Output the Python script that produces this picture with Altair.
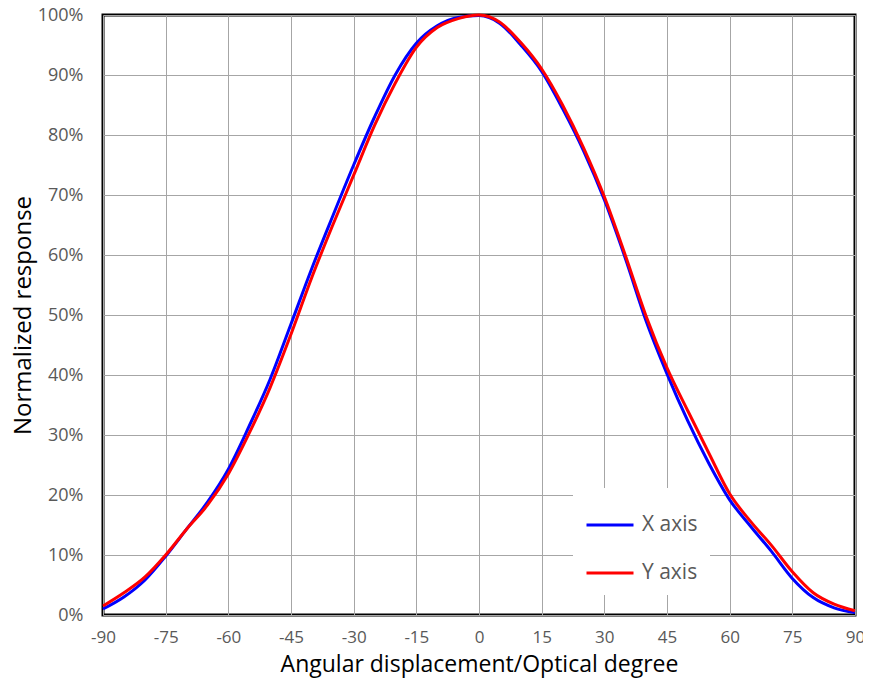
import altair as alt
import pandas as pd

angles = list(range(-90, 91, 5))

# X axis series: normalized response (%) read every 5 degrees
x_axis_resp = [1.0, 3.0, 5.8, 9.8, 14.3, 18.8, 24.3, 31.5, 39.3, 48.5, 57.8, 66.5, 75.0,
               83.0, 90.1, 95.3, 98.2, 99.6, 99.9, 98.6, 95.0, 90.6, 84.4, 77.4, 69.2,
               59.5, 49.0, 40.2, 32.3, 25.3, 19.2, 14.8, 10.6, 6.1, 2.9, 1.2, 0.4]

# Y axis series
y_axis_resp = [1.5, 3.7, 6.3, 10.0, 14.3, 18.3, 23.5, 30.3, 37.9, 46.8, 56.3, 65.0, 73.3,
               81.6, 88.7, 94.6, 97.9, 99.4, 100.0, 98.8, 95.4, 91.0, 85.0, 77.9, 69.7,
               60.0, 49.8, 41.2, 34.0, 27.0, 20.2, 15.6, 11.6, 7.2, 3.7, 1.8, 0.7]

series_names = ["X axis", "Y axis"]
series_colors = ["#0000FF", "#FF0000"]
x_ticks = list(range(-90, 91, 15))
y_ticks = list(range(0, 101, 10))

rows = []
for d, r in zip(angles, x_axis_resp):
    rows.append({"angle": d, "resp": r, "series": series_names[0], "order": 0})
for d, r in zip(angles, y_axis_resp):
    rows.append({"angle": d, "resp": r, "series": series_names[1], "order": 1})
df = pd.DataFrame(rows)

chart = alt.Chart(df).mark_line(strokeWidth=3, interpolate="monotone").encode(
    x=alt.X("angle:Q",
            scale=alt.Scale(domain=[-90, 90], nice=False, zero=False),
            axis=alt.Axis(values=x_ticks, title="Angular displacement/Optical degree",
                          labelExpr="datum.value + ''", labelFlush=False,
                          labelFontSize=17, titleFontSize=23,
                          tickSize=0, labelPadding=14, titlePadding=8,
                          domain=False)),
    y=alt.Y("resp:Q",
            scale=alt.Scale(domain=[0, 100], nice=False),
            axis=alt.Axis(values=y_ticks, title="Normalized response",
                          labelExpr="datum.value + '%'", labelFlush=False,
                          tickSize=0, labelPadding=20, titlePadding=2,
                          domain=False)),
    color=alt.Color("series:N",
                    scale=alt.Scale(domain=series_names, range=series_colors),
                    legend=alt.Legend(title=None, orient="none", legendX=470, legendY=473,
                                      symbolType="stroke", symbolSize=2209,
                                      symbolStrokeWidth=3, labelFontSize=21,
                                      labelColor="#595959", labelFont="Open Sans",
                                      fillColor="white", padding=12, rowPadding=13,
                                      labelOffset=7, labelLimit=200)),
    order=alt.Order("order:Q"),
    detail="series:N",
).properties(
    width=752, height=600,
    autosize=alt.AutoSizeParams(type="none"),
    padding={"left": 95, "top": 7, "right": 8, "bottom": 64},
).configure_view(
    stroke="black", strokeWidth=3
).configure_axis(
    gridColor="#A6A6A6", gridWidth=1, gridOpacity=1,
    labelFont="Open Sans", labelFontSize=18, labelColor="#595959",
    titleFont="Open Sans", titleFontSize=24, titleColor="black", titleFontWeight="normal",
)

chart.save("out.html", embed_options={"renderer": "svg", "actions": False})
